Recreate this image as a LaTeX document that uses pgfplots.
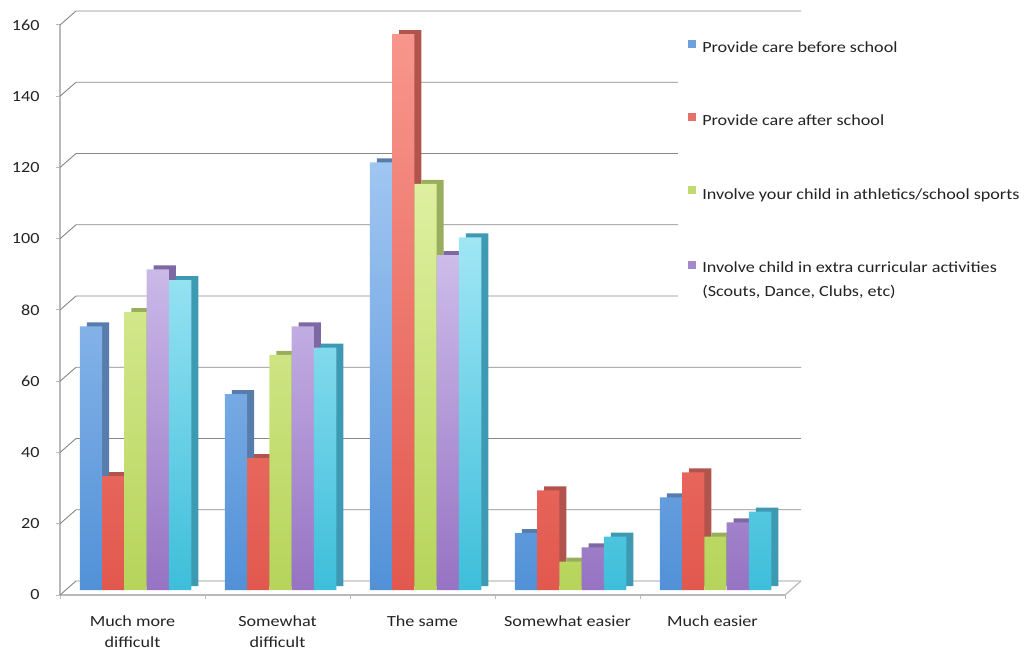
\documentclass[border=0pt]{standalone}
\usepackage{fontspec}
\setmainfont{Carlito}[FakeStretch=1.17]
\usepackage{pgfplots}
\usepackage{pgfplotstable}
\pgfplotsset{compat=1.18}
\definecolor{cblue}{RGB}{82,145,215}
\definecolor{cblueL}{RGB}{160,198,242}
\definecolor{cblueD}{RGB}{88,124,172}
\definecolor{cred}{RGB}{226,88,78}
\definecolor{credL}{RGB}{248,150,140}
\definecolor{credD}{RGB}{178,84,78}
\definecolor{cgreen}{RGB}{182,212,90}
\definecolor{cgreenL}{RGB}{222,240,160}
\definecolor{cgreenD}{RGB}{152,174,92}
\definecolor{cpurple}{RGB}{150,115,195}
\definecolor{cpurpleL}{RGB}{205,188,234}
\definecolor{cpurpleD}{RGB}{124,104,162}
\definecolor{ccyan}{RGB}{62,190,218}
\definecolor{ccyanL}{RGB}{160,230,245}
\definecolor{ccyanD}{RGB}{62,154,178}
\definecolor{gridc}{RGB}{135,135,135}
\definecolor{axc}{RGB}{185,185,185}
\definecolor{txt}{RGB}{35,35,35}

\pgfplotstableread{
x blue red green purple cyan
0 74 32 78 90 87
1 55 37 66 74 68
2 120 156 114 94 99
3 16 28 8 12 15
4 26 33 15 19 22
}\data

\pgfplotsset{
  frontbar/.style n args={3}{ybar, bar width=22.3pt, draw=none, top color=#2, bottom color=#1, bar shift=#3, yshift=5pt, forget plot},
  depthbar/.style 2 args={ybar, bar width=22.3pt, draw=none, fill=#1, bar shift=#2, yshift=9pt, forget plot},
}

\begin{document}
\begin{tikzpicture}[font=\fontsize{15.5}{21}\selectfont, text=txt]
\useasboundingbox (0,0) rectangle (1036pt,654pt);
\begin{axis}[
  at={(60pt,59pt)}, anchor=south west,
  width=725pt, height=570pt, scale only axis,
  xmin=-0.5, xmax=4.5, ymin=0, ymax=160,
  clip=false,
  axis x line*=bottom, axis y line*=left,
  axis line style={draw=axc, line width=1.3pt},
  xtick={0,1,2,3,4},
  xticklabels={{Much more\\difficult},{Somewhat\\difficult},{The same},{Somewhat easier},{Much easier}},
  xticklabel style={align=center, font=\fontsize{15.5}{21}\selectfont, text=txt, yshift=-13pt},
  major x tick style={draw=none},
  minor xtick={-0.5,0.5,1.5,2.5,3.5,4.5},
  minor tick length=4pt,
  minor x tick style={draw=axc, line width=1pt},
  ytick={0,20,...,160},
  ytick style={draw=axc, line width=1pt},
  major tick length=4pt,
  tick align=outside,
  yticklabel style={font=\fontsize{15.5}{21}\selectfont, text=txt, xshift=-13pt},
  /pgf/number format/assume math mode=true,
  legend style={at={(axis description cs:0.852,0.985)}, anchor=north west,
    draw=none, fill=white, inner xsep=10pt, inner ysep=6pt,
    font=\fontsize{15.5}{24}\selectfont, text=txt,
    row sep=57pt, cells={anchor=west, align=left}},
  legend cell align=left,
]
\pgfplotsinvokeforeach{0,20,...,160}{
  \draw[gridc, line width=0.9pt] (axis cs:-0.5,#1) -- ++(16pt,14pt) -- ++(725pt,0pt);
}
\draw[axc, line width=1.2pt] (axis cs:4.5,0) -- ++(16pt,14pt);

\addplot[depthbar={cblueD}{-34.6pt}] table[x=x,y=blue]{\data};
\addplot[frontbar={cblue}{cblueL}{-41.6pt}] table[x=x,y=blue]{\data};
\addplot[depthbar={credD}{-12.3pt}] table[x=x,y=red]{\data};
\addplot[frontbar={cred}{credL}{-19.3pt}] table[x=x,y=red]{\data};
\addplot[depthbar={cgreenD}{10pt}] table[x=x,y=green]{\data};
\addplot[frontbar={cgreen}{cgreenL}{3pt}] table[x=x,y=green]{\data};
\addplot[depthbar={cpurpleD}{32.3pt}] table[x=x,y=purple]{\data};
\addplot[frontbar={cpurple}{cpurpleL}{25.3pt}] table[x=x,y=purple]{\data};
\addplot[depthbar={ccyanD}{54.6pt}] table[x=x,y=cyan]{\data};
\addplot[frontbar={ccyan}{ccyanL}{47.6pt}] table[x=x,y=cyan]{\data};

\addlegendimage{legend image code/.code={\fill[cblue!85!white] (0pt,1pt) rectangle (7pt,8pt); \path (12pt,4pt);}}
\addlegendentry{Provide care before school}
\addlegendimage{legend image code/.code={\fill[cred!85!white] (0pt,1pt) rectangle (7pt,8pt); \path (12pt,4pt);}}
\addlegendentry{Provide care after school}
\addlegendimage{legend image code/.code={\fill[cgreen!85!white] (0pt,1pt) rectangle (7pt,8pt); \path (12pt,4pt);}}
\addlegendentry{Involve your child in athletics/school sports}
\addlegendimage{legend image code/.code={\fill[cpurple!85!white] (0pt,12pt) rectangle (7pt,19pt); \path (12pt,-10pt);}}
\addlegendentry{Involve child in extra curricular activities\\(Scouts, Dance, Clubs, etc)}
\end{axis}
\end{tikzpicture}
\end{document}
